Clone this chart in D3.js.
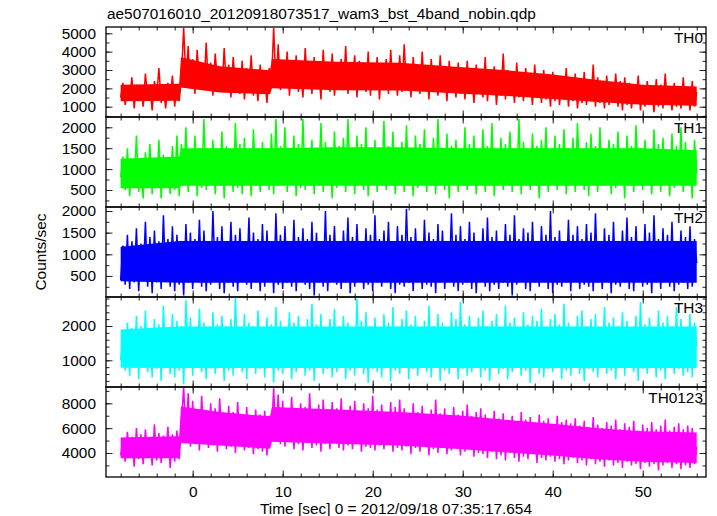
<!DOCTYPE html>
<html><head><meta charset="utf-8">
<script src="https://cdn.jsdelivr.net/npm/d3@7"></script>
<style>body{margin:0;background:#fff}svg{display:block}text{font-family:"Liberation Sans",Arial,Helvetica,sans-serif}</style>
</head><body><svg id="c" width="717" height="516"></svg>
<script>
const titleText = "ae507016010_20120918073517_wam3_bst_4band_nobin.qdp";
const xLabel = "Time [sec] 0 = 2012/09/18 07:35:17.654";
const yLabel = "Counts/sec";
const binStart = -8, binWidth = 0.25;
const xRange = [-9.63, 57.03];
const xTicks = [0, 10, 20, 30, 40, 50];
const xMinorTicks = [-8,-6,-4,-2,0,2,4,6,8,10,12,14,16,18,20,22,24,26,28,30,32,34,36,38,40,42,44,46,48,50,52,54,56];
const bandNames = ["TH0", "TH1", "TH2", "TH3", "TH0123"];
const bandColors = ["#ff0000", "#00ff00", "#0000ff", "#00ffff", "#ff00ff"];

// counts/sec, one value per 0.25 s bin from t = -8 s to t = 56 s
const th0 = [
1500,2300,1100,2000,1400,2600,900,2200,1300,1900,1000,2800,1500,2100,800,2400,1600,3100,1200,2000,900,2300,1400,2700,1000,2200,
1300,2600,5300,2400,
4300,2000,3600,1700,4100,2300,3200,1900,4500,2100,3400,1600,3900,2400,3000,1800,4200,2000,3300,1500,3700,2200,2900,1700,3500,1400,3100,2000,3800,1600,2700,1300,3300,1800,2600,1200,3100,
2300,5300,2100,
4400,1900,3500,2200,4000,1600,3200,2100,3800,1800,2900,1500,4200,2300,3400,1700,3700,2000,3100,1400,4100,2200,3300,1800,3900,1600,3000,2100,3600,1900,4300,1700,3200,2300,3800,1500,3500,2000,2900,1800,4000,1600,3300,2200,3700,1400,3100,1900,3600,1700,4100,2100,3000,1600,3800,
1800,4400,2000,3300,1500,3700,2100,3000,1700,4000,1900,3200,1400,3600,2000,2900,1600,3800,1800,3100,1300,3500,1900,2800,1500,3400,1700,3000,
1400,3500,1800,2800,1200,3300,1700,2600,1500,3700,1300,2900,1800,3200,1100,2700,1600,3900,1400,3000,1700,2600,1200,3400,1500,2800,1300,3100,1600,2500,1100,3300,1500,2700,1200,3000,1400,2600,1000,2900,
1300,2700,1100,2300,1400,3100,1000,2500,1300,2800,900,2200,1200,2900,1100,2400,1300,3300,1000,2600,1200,2300,900,2700,1100,2200,1300,2800,1000,2400,800,2600,
1100,2300,900,2000,1200,2700,800,2100,1000,2400,1100,1900,700,2500,1000,2200,900,2800,1100,2000,800,2300,1000,1900,900,2600,1100,2100,800,2400,1000,1800];

const th1 = [
800,1300,500,1500,350,1200,600,1800,450,1100,300,1400,650,1600,400,1250,550,1700,300,1350,600,1150,400,1550,500,1800,350,
1600,600,2000,450,1400,700,1800,350,1500,550,2200,500,1300,650,1700,400,1450,600,1900,300,1550,700,1350,450,2100,550,1600,400,1750,650,1400,350,1950,600,1500,450,1650,700,1300,500,1850,400,
2200,600,1550,700,2000,450,1450,650,1800,350,1600,550,2200,500,1400,700,1700,400,1500,650,2100,450,1650,600,1350,300,1900,550,1550,700,1750,450,2200,600,1450,400,1800,650,1600,500,2000,350,1500,700,1700,450,1350,600,2150,500,1550,650,1900,400,1450,700,
1650,450,2050,600,1400,350,1800,550,1600,700,1950,450,1500,600,1750,400,2200,650,1450,500,1850,300,1550,700,1700,450,1350,600,2000,500,1600,650,1800,400,1450,700,1950,450,1550,600,2100,350,1400,650,1750,500,1600,700,1900,450,1500,600,2200,400,1650,700,1350,500,1850,650,1550,300,1700,600,2000,450,1450,700,
1800,500,1600,650,1950,400,1500,600,1750,450,2100,700,1400,500,1650,350,1850,650,1550,450,2000,600,1450,700,1700,400,1600,550,1900,650,1350,300,1800,600,1550,450,2050,700,1500,500,1700,650,1400,400,1950,600,1600,450,1750,700,1450,350,1850,550,1550,650,2000,450,1650,600,1400,300,1700,900];

const th2 = [
400,1200,300,1450,200,1300,350,1600,150,1250,450,1750,250,1400,100,1550,
350,1300,200,1900,400,1350,250,1650,150,1450,300,1200,50,1700,350,1500,
200,1350,400,1800,250,1550,150,1250,300,2000,450,1400,200,1650,100,1300,
350,1750,250,1450,150,1600,400,1200,300,1850,200,1500,350,1350,150,1700,
250,1550,400,1300,100,1950,300,1450,200,1650,350,1250,250,1800,150,1400,
400,1600,300,1350,200,1750,50,1500,350,1300,250,2000,150,1450,400,1650,
300,1250,200,1550,350,1850,100,1400,250,1700,400,1300,200,1600,300,1450,
150,1900,350,1350,250,1550,400,1750,200,1250,100,1650,300,1450,250,2050,
350,1400,150,1600,400,1300,200,1800,300,1500,250,1350,100,1700,350,1550,
200,1250,400,1950,250,1450,150,1650,300,1350,350,1750,200,1500,100,1300,
400,1600,250,1850,150,1400,300,1550,200,1250,350,1700,250,1450,50,1900,
300,1350,400,1600,200,1500,150,1750,350,1300,250,1650,400,1450,200,2000,
100,1400,300,1550,250,1250,350,1800,150,1450,400,1650,200,1350,300,1700,
250,1500,150,1950,350,1300,200,1600,400,1450,100,1750,300,1250,250,1550,
350,1850,200,1400,150,1650,400,1300,250,1700,300,1500,100,1900,350,1350,
200,1600,400,1450,250,1750,150,1300,300,1550,350,1400,200,1650,250,1350,
800];

const th3 = [
1000,1800,700,2100,550,1950,800,2300,450,2000,900,2450,650,1850,500,2200,
750,2050,400,2600,850,1900,600,2350,500,2150,700,2000,300,2750,800,2250,
550,1950,900,2500,650,2100,450,1850,750,2400,600,2050,850,2300,400,2000,
700,2200,550,2850,800,1900,650,2350,450,2100,900,2000,600,2450,750,1850,
500,2250,850,2050,350,2550,700,2150,600,1950,800,2400,450,2100,650,2300,
900,1900,550,2200,700,2650,400,2050,850,2350,600,1950,750,2200,500,2500,
650,2000,800,2300,450,2100,700,1850,550,2800,900,2150,600,2400,350,2000,
750,2250,650,1950,500,2350,850,2100,400,2550,700,1900,600,2200,800,2450,
450,2050,750,2300,550,1850,900,2150,650,2600,500,2000,800,2350,400,2100,
700,1950,600,2400,850,2200,450,2700,750,2050,550,2300,650,1900,900,2250,
500,2450,700,2000,400,2150,800,2350,600,1950,750,2600,450,2100,650,2250,
850,1900,550,2400,700,2050,350,2300,800,2150,600,2500,500,1950,750,2200,
650,2350,900,2050,450,2650,700,2100,550,1900,800,2300,600,2450,400,2000,
750,2200,650,2350,500,1850,850,2550,600,2100,700,2250,450,2000,800,2400,
550,2150,900,1950,650,2300,400,2700,750,2050,600,2250,850,1900,500,2450,
700,2100,450,2300,800,2000,600,2550,750,2200,550,1950,650,2350,500,2100,
1400];

const th0123 = [
3800,5100,3300,5700,3600,5300,2900,6000,3500,5500,3100,5900,3700,5200,3000,6300,3400,5600,3200,5400,3600,6100,2800,5500,3300,5800,3500,
6500,9300,4900,8800,4500,
8200,4700,7500,4200,8600,4900,7200,4400,8000,4600,7600,4100,8400,4800,7100,4300,7800,4500,7300,4000,8100,4600,7000,4200,7700,4400,6900,3900,7500,4300,7100,4100,7400,3800,7000,
5600,9200,5000,8700,4700,
8200,4500,7600,4900,8500,4300,7400,4700,8000,4200,7700,4800,8800,4400,7300,4600,7900,4100,8300,4700,7500,4300,8100,4900,7600,4400,8400,4200,7400,4600,7800,4300,8200,4800,7300,4100,8000,4500,7600,4400,8600,4200,7500,4600,7900,4300,7200,4700,8100,4100,7700,4400,8300,
4200,7600,4500,7200,3900,8000,4400,7300,4100,7800,4600,7100,3800,7500,4300,8300,4000,7200,4500,7600,3900,7000,4200,7700,4400,7100,3800,7400,4100,7900,4300,7000,3700,7300,4000,7600,
3900,7100,3600,6700,4100,7400,3500,6800,3800,7200,3400,6600,4000,7000,3600,6500,3300,7300,3700,6700,3500,6900,3900,6400,3200,7100,3600,6600,3400,6800,3700,6300,3300,7000,3500,6500,3100,6700,3400,6400,
3600,6800,3200,6200,3400,6600,3000,6100,3500,6900,3100,6300,3300,6000,2900,6500,3400,6200,3000,6700,3200,5900,2800,6400,3300,6100,3000,6600,3100,5800,2700,6300,3200,6000,2900,6500,3100,5900,2600,6200,3000,6700,3200,5800,2800,6100,3100,6400,2700,5900,3000,6200,2800,6000,3100,4500];

// solid core of each light curve (where the noise is dense), read at these times
const coreTimes = [-8, -1.5, -1.3, 3, 8.6, 8.8, 16, 23, 30, 35, 40, 45, 50, 56];
const th0CoreLo = [1300, 1320, 2050, 1780, 1680, 2000, 1900, 1880, 1700, 1580, 1420, 1250, 1100, 1050];
const th0CoreHi = [2200, 2250, 3700, 3200, 2980, 3600, 3450, 3400, 3150, 2980, 2750, 2450, 2200, 2100];
const th1CoreLo = [540, 540, 600, 600, 600, 600, 600, 600, 600, 600, 600, 600, 600, 600];
const th1CoreHi = [1250, 1300, 1500, 1500, 1500, 1500, 1520, 1520, 1500, 1500, 1500, 1500, 1500, 1450];
const th2CoreLo = [380, 345, 345, 345, 345, 345, 345, 345, 345, 345, 345, 345, 345, 345];
const th2CoreHi = [1175, 1310, 1310, 1310, 1310, 1310, 1310, 1310, 1310, 1310, 1310, 1310, 1310, 1310];
const th3CoreLo = [780, 775, 775, 775, 775, 775, 775, 775, 775, 775, 775, 775, 775, 775];
const th3CoreHi = [1900, 1985, 1985, 1985, 1985, 1985, 1985, 1985, 1985, 1985, 1985, 1985, 1985, 1985];
const th0123CoreLo = [3575, 3575, 4800, 4600, 4350, 4900, 4750, 4600, 4300, 4050, 3800, 3500, 3300, 3200];
const th0123CoreHi = [5250, 5350, 7750, 7300, 6950, 7700, 7500, 7300, 7000, 6650, 6350, 6000, 5750, 5650];

const series = [th0, th1, th2, th3, th0123];
const coreLo = [th0CoreLo, th1CoreLo, th2CoreLo, th3CoreLo, th0123CoreLo];
const coreHi = [th0CoreHi, th1CoreHi, th2CoreHi, th3CoreHi, th0123CoreHi];
const yDomains = [[439, 5343], [93, 2246], [15, 2092], [222, 2845], [2068, 9312]];
const yMajorTicks = [[1000, 2000, 3000, 4000, 5000], [500, 1000, 1500, 2000], [500, 1000, 1500, 2000], [1000, 2000], [4000, 6000, 8000]];
const yMinorSteps = [500, 250, 250, 200, 1000];

const svg = d3.select("#c");
const L = 106, R = 706, T = 27, H = 90;
const FONT = 15.4;
const x = d3.scaleLinear().domain(xRange).range([L, R]);
const defs = svg.append("defs");

function styleAxis(g) {
  g.select(".domain").remove();
  g.selectAll(".tick line").attr("stroke", "#222").attr("stroke-width", 1);
  g.selectAll(".tick text").attr("font-size", FONT).attr("font-family", '"Liberation Sans", Arial, sans-serif').attr("fill", "#000");
  g.attr("font-size", FONT).attr("font-family", null);
}

series.forEach((vals, i) => {
  const top = T + i * H, bot = top + H;
  const y = d3.scaleLinear().domain(yDomains[i]).range([bot, top]);
  const cid = "clip" + i;
  defs.append("clipPath").attr("id", cid).append("rect").attr("x", L).attr("y", top).attr("width", R - L).attr("height", H);
  const g = svg.append("g").attr("clip-path", `url(#${cid})`);

  const core = d3.area().x((d, j) => x(coreTimes[j])).y0((d, j) => y(coreLo[i][j])).y1((d, j) => y(coreHi[i][j]));
  g.append("path").datum(coreTimes).attr("d", core).attr("fill", bandColors[i]);

  const line = d3.line().x((d, j) => x(binStart + j * binWidth)).y(d => y(d));
  g.append("path").datum(vals).attr("d", line)
    .attr("fill", "none").attr("stroke", bandColors[i]).attr("stroke-width", 1.5).attr("stroke-linejoin", "miter").attr("stroke-miterlimit", 2);

  const minorY = d3.range(Math.ceil(yDomains[i][0] / yMinorSteps[i]) * yMinorSteps[i], yDomains[i][1], yMinorSteps[i]);
  svg.append("g").attr("transform", `translate(0,${top})`).call(d3.axisTop(x).tickValues(xMinorTicks).tickSize(-3.5).tickFormat("")).call(styleAxis);
  svg.append("g").attr("transform", `translate(0,${top})`).call(d3.axisTop(x).tickValues(xTicks).tickSize(-6.5).tickFormat("")).call(styleAxis);
  svg.append("g").attr("transform", `translate(0,${bot})`).call(d3.axisBottom(x).tickValues(xMinorTicks).tickSize(-3.5).tickFormat("")).call(styleAxis);
  const bx = d3.axisBottom(x).tickValues(xTicks).tickSize(-6.5).tickPadding(9);
  if (i < series.length - 1) bx.tickFormat("");
  svg.append("g").attr("transform", `translate(0,${bot})`).call(bx).call(styleAxis);
  svg.append("g").attr("transform", `translate(${L},0)`).call(d3.axisLeft(y).tickValues(minorY).tickSize(-3.5).tickFormat("")).call(styleAxis);
  svg.append("g").attr("transform", `translate(${L},0)`).call(d3.axisLeft(y).tickValues(yMajorTicks[i]).tickSize(-6.5).tickPadding(10).tickFormat(d3.format("d"))).call(styleAxis);
  svg.append("g").attr("transform", `translate(${R},0)`).call(d3.axisRight(y).tickValues(minorY).tickSize(-3.5).tickFormat("")).call(styleAxis);
  svg.append("g").attr("transform", `translate(${R},0)`).call(d3.axisRight(y).tickValues(yMajorTicks[i]).tickSize(-6.5).tickFormat("")).call(styleAxis);

  svg.append("rect").attr("x", L).attr("y", top).attr("width", R - L).attr("height", H)
    .attr("fill", "none").attr("stroke", "#000").attr("stroke-width", 1.3);
  svg.append("text").attr("x", R - 3).attr("y", top + 16).attr("text-anchor", "end")
    .attr("font-size", FONT).text(bandNames[i]);
});

svg.append("text").attr("x", 107).attr("y", 19).attr("font-size", FONT).text(titleText);
svg.append("text").attr("x", 260).attr("y", 514).attr("font-size", FONT).text(xLabel);
svg.append("text").attr("transform", "translate(46,252) rotate(-90)").attr("text-anchor", "middle").attr("font-size", FONT).text(yLabel);
</script>
</body></html>
